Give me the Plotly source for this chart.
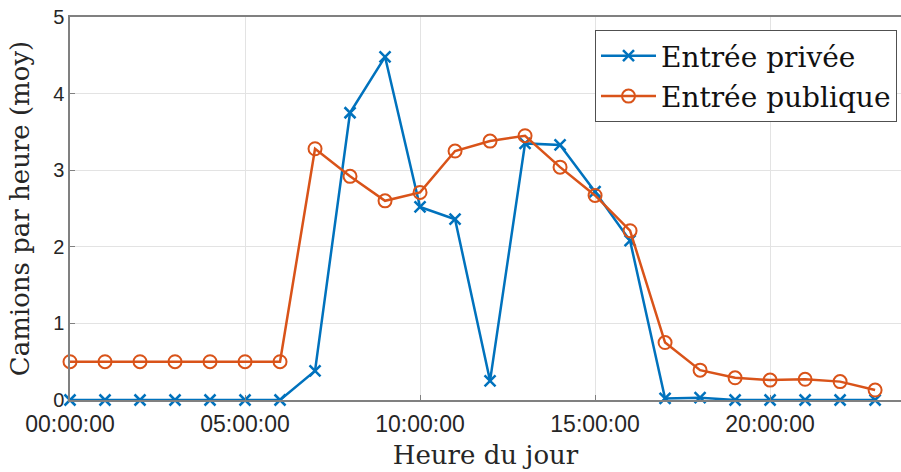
import plotly.graph_objects as go

hours = list(range(24))
privee = [0, 0, 0, 0, 0, 0, 0, 0.38, 3.75, 4.48, 2.52, 2.36, 0.25, 3.35, 3.33,
          2.72, 2.08, 0.02, 0.03, 0, 0, 0, 0, 0]
publique = [0.5, 0.5, 0.5, 0.5, 0.5, 0.5, 0.5, 3.28, 2.92, 2.6, 2.71, 3.25, 3.38,
            3.45, 3.04, 2.67, 2.21, 0.75, 0.39, 0.29, 0.26, 0.27, 0.24, 0.13]
tick_vals = [0, 5, 10, 15, 20]
tick_text = ["00:00:00", "05:00:00", "10:00:00", "15:00:00", "20:00:00"]

serif = "DejaVu Serif"
sans = "Liberation Sans"

fig = go.Figure()
fig.add_trace(go.Scatter(
    x=hours, y=privee, mode="lines+markers", name="Entrée privée",
    legendgroup="a",
    line=dict(color="#0072BD", width=2.5),
    marker=dict(symbol="x-thin", size=11, line=dict(color="#0072BD", width=2.5)),
    cliponaxis=False,
))
fig.add_trace(go.Scatter(
    x=hours, y=publique, mode="lines+markers", name="Entrée publique",
    legendgroup="b",
    line=dict(color="#D95319", width=2.5),
    marker=dict(symbol="circle-open", size=13, color="#D95319",
                line=dict(color="#D95319", width=2)),
    cliponaxis=False,
))

fig.update_layout(
    width=901, height=472,
    margin=dict(l=70, r=0, t=17, b=72),
    paper_bgcolor="white", plot_bgcolor="white",
    showlegend=True,
    legend=dict(
        x=(897 - 70) / 831, y=(400 - 30) / 383, xanchor="right", yanchor="top",
        bgcolor="white", bordercolor="#505050", borderwidth=1,
        font=dict(family=serif, size=28, color="#111"),
        tracegroupgap=1, itemwidth=55,
    ),
    xaxis=dict(
        range=[0, 23.74], tickvals=tick_vals, ticktext=tick_text,
        showgrid=True, gridcolor="#e3e3e3", gridwidth=1,
        showline=True, linecolor="#808080", linewidth=1.5, mirror=True,
        ticks="inside", ticklen=5, tickcolor="#808080",
        tickfont=dict(family=sans, size=23, color="#262626"),
        ticklabelstandoff=3,
        zeroline=False,
        title=dict(text="Heure du jour", font=dict(family=serif, size=26, color="#262626"),
                   standoff=9),
    ),
    yaxis=dict(
        range=[0, 5], tickvals=[0, 1, 2, 3, 4, 5],
        showgrid=True, gridcolor="#e3e3e3", gridwidth=1,
        showline=True, linecolor="#808080", linewidth=1.5, mirror=False,
        ticks="inside", ticklen=5, tickcolor="#808080",
        tickfont=dict(family=sans, size=20, color="#262626"),
        zeroline=False,
        title=dict(text="Camions par heure (moy)", font=dict(family=serif, size=26, color="#262626"),
                   standoff=16),
    ),
)

fig.write_html("out.html", config={"displayModeBar": False},
               post_script="document.body.style.margin='0';")
